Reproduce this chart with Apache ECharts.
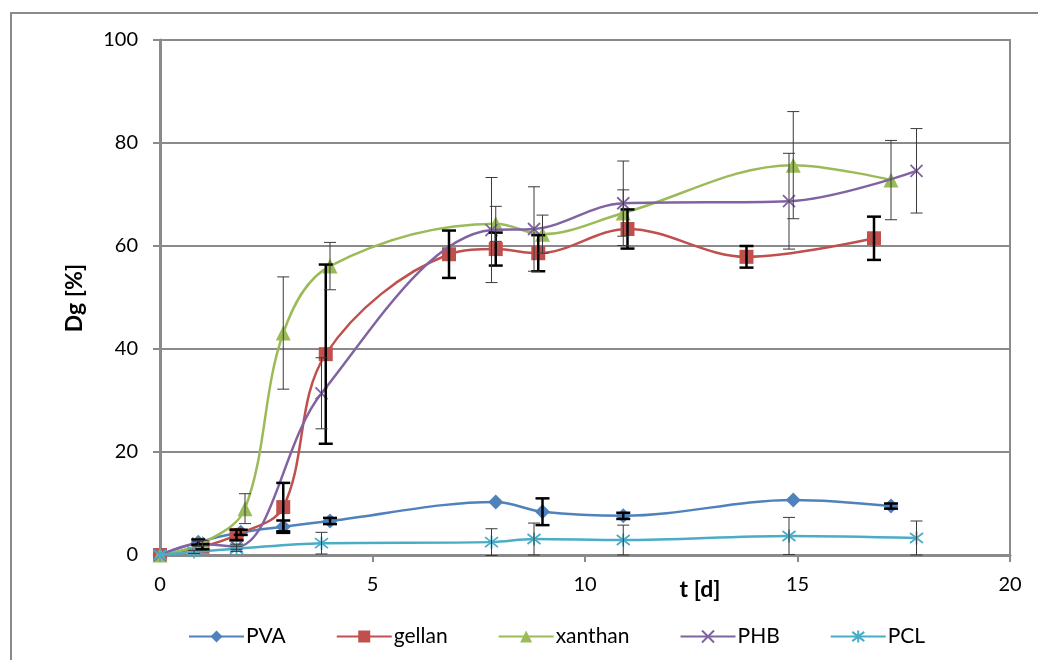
<!DOCTYPE html>
<html>
<head>
<meta charset="utf-8">
<style>
  html, body { margin: 0; padding: 0; background: #fff; }
  #chart { width: 1038px; height: 660px; }
</style>
<script src="https://cdn.jsdelivr.net/npm/echarts@6/dist/echarts.min.js"></script>
</head>
<body>
<div id="chart"></div>
<script>
// Degradation Dg [%] over time t [d], mean with standard deviation
const seriesNames = ['PVA', 'gellan', 'xanthan', 'PHB', 'PCL'];

const pvaT   = [0, 0.9, 1.9, 2.9, 4.0, 7.9, 9.0, 10.9, 14.9, 17.2];
const pvaDg  = [0, 2.5, 4.4, 5.5, 6.6, 10.3, 8.4, 7.6, 10.7, 9.5];
const pvaSd  = [0, 0.5, 0.5, 1.2, 0.6, 0, 2.6, 0.6, 0, 0.5];

const gellanT  = [0, 1.0, 1.8, 2.9, 3.9, 6.8, 7.9, 8.9, 11.0, 13.8, 16.8];
const gellanDg = [0, 1.6, 3.9, 9.3, 39.0, 58.4, 59.4, 58.6, 63.3, 57.9, 61.5];
const gellanSd = [0, 0.5, 1.0, 4.7, 17.4, 4.6, 3.2, 3.5, 3.8, 2.1, 4.2];

const xanthanT  = [0, 1.0, 2.0, 2.9, 4.0, 7.9, 9.0, 10.9, 14.9, 17.2];
const xanthanDg = [0, 2.3, 9.0, 43.1, 56.1, 64.3, 62.3, 66.4, 75.7, 72.8];
const xanthanSd = [0, 0.5, 2.9, 10.9, 4.6, 3.4, 3.7, 4.5, 10.4, 7.7];

const phbT  = [0, 0.9, 1.8, 3.8, 7.8, 8.8, 10.9, 14.8, 17.8];
const phbDg = [0, 2.2, 1.6, 31.4, 63.1, 63.3, 68.3, 68.7, 74.6];
const phbSd = [0, 0.5, 0.5, 6.9, 10.2, 8.2, 8.2, 9.3, 8.2];

const pclT  = [0, 0.8, 1.8, 3.8, 7.8, 8.8, 10.9, 14.8, 17.8];
const pclDg = [0, 0.6, 1.2, 2.3, 2.5, 3.1, 2.9, 3.7, 3.3];
const pclSd = [0, 0.3, 0.5, 2.1, 2.6, 3.1, 2.9, 3.6, 3.3];

const xTicks = [0, 5, 10, 15, 20];
const yTicks = [0, 20, 40, 60, 80, 100];

const FONT = 'Lato, "Open Sans", sans-serif';
const GRIDGRAY = '#8a8a8a';

const colors = ['#4F81BD', '#C0504D', '#9BBB59', '#8064A2', '#4BACC6'];
const symbols = [
  'diamond',
  'rect',
  'triangle',
  'path://M0,0L10,10M10,0L0,10',
  'path://M0,0L10,10M10,0L0,10M5,-1.5L5,11.5'
];
const symbolSizes = [15, 14, 15, 12, 13];
const heavyBars = [true, true, false, false, false];

const groups = [
  [pvaT, pvaDg, pvaSd],
  [gellanT, gellanDg, gellanSd],
  [xanthanT, xanthanDg, xanthanSd],
  [phbT, phbDg, phbSd],
  [pclT, pclDg, pclSd]
];

function errorBarRenderer(heavy) {
  return function (params, api) {
    const x = api.value(0), y = api.value(1), e = api.value(2);
    if (!e) return null;
    const hi = api.coord([x, y + e]);
    const lo = api.coord([x, y - e]);
    const half = heavy ? 7 : 6;
    const style = {
      stroke: heavy ? '#000' : '#3a3a3a',
      lineWidth: heavy ? 2.5 : 1
    };
    return {
      type: 'group',
      children: [
        { type: 'line', shape: { x1: hi[0], y1: hi[1], x2: lo[0], y2: lo[1] }, style },
        { type: 'line', shape: { x1: hi[0] - half, y1: hi[1], x2: hi[0] + half, y2: hi[1] }, style },
        { type: 'line', shape: { x1: lo[0] - half, y1: lo[1], x2: lo[0] + half, y2: lo[1] }, style }
      ]
    };
  };
}

const series = [];
groups.forEach(function (g, i) {
  const pts = g[0].map(function (t, k) { return [t, g[1][k]]; });
  const bars = g[0].map(function (t, k) { return [t, g[1][k], g[2][k]]; });
  series.push({
    name: seriesNames[i],
    type: 'line',
    smooth: 0.35,
    data: pts,
    symbol: symbols[i],
    symbolSize: symbolSizes[i],
    showAllSymbol: true,
    lineStyle: { color: colors[i], width: 2.5 },
    itemStyle: {
      color: colors[i],
      borderColor: colors[i],
      borderWidth: i >= 3 ? 1.8 : 0
    },
    z: 2 + i * 0.1,
    animation: false
  });
  series.push({
    name: seriesNames[i] + ' sd',
    type: 'custom',
    renderItem: errorBarRenderer(heavyBars[i]),
    data: bars,
    encode: { x: 0, y: 1 },
    z: 3,
    silent: true,
    animation: false
  });
});

const chart = echarts.init(document.getElementById('chart'), null, { renderer: 'canvas' });
chart.setOption({
  animation: false,
  backgroundColor: '#ffffff',
  textStyle: { fontFamily: FONT },
  grid: {
    left: 160, right: 28, top: 40, bottom: 105,
    show: true, borderColor: GRIDGRAY, borderWidth: 2, backgroundColor: 'transparent'
  },
  xAxis: {
    type: 'value',
    min: xTicks[0], max: xTicks[xTicks.length - 1], interval: 5,
    axisLine: { show: true, onZero: false, lineStyle: { color: GRIDGRAY, width: 3 } },
    axisTick: { show: true, inside: false, length: 7, lineStyle: { color: GRIDGRAY, width: 2 } },
    axisLabel: { color: '#000', fontSize: 20, fontFamily: FONT, margin: 20 },
    splitLine: { show: false }
  },
  yAxis: {
    type: 'value',
    min: yTicks[0], max: yTicks[yTicks.length - 1], interval: 20,
    axisLine: { show: true, lineStyle: { color: GRIDGRAY, width: 3 } },
    axisTick: { show: true, inside: false, length: 7, lineStyle: { color: GRIDGRAY, width: 2 } },
    axisLabel: { color: '#000', fontSize: 20, fontFamily: FONT, margin: 22 },
    splitLine: { show: true, lineStyle: { color: GRIDGRAY, width: 2 } }
  },
  legend: {
    data: seriesNames,
    bottom: 8,
    left: 183,
    itemWidth: 55,
    itemHeight: 15,
    itemGap: 50,
    textStyle: { color: '#000', fontSize: 21, fontFamily: FONT, padding: [0, 0, 0, -3] }
  },
  graphic: [
    {
      type: 'rect',
      shape: { x: 11, y: 13, width: 1200, height: 900 },
      style: { fill: 'none', stroke: GRIDGRAY, lineWidth: 2 },
      silent: true, z: -1
    },
    {
      type: 'text',
      x: 75, y: 298,
      rotation: Math.PI / 2,
      style: {
        text: 'Dg [%]', fill: '#000', fontSize: 23, fontWeight: 'bold',
        fontFamily: FONT, textAlign: 'center', textVerticalAlign: 'middle'
      }
    },
    {
      type: 'text',
      x: 700, y: 590,
      style: {
        text: 't [d]', fill: '#000', fontSize: 23, fontWeight: 'bold',
        fontFamily: FONT, textAlign: 'center', textVerticalAlign: 'middle'
      }
    }
  ],
  series: series
});
</script>
</body>
</html>
